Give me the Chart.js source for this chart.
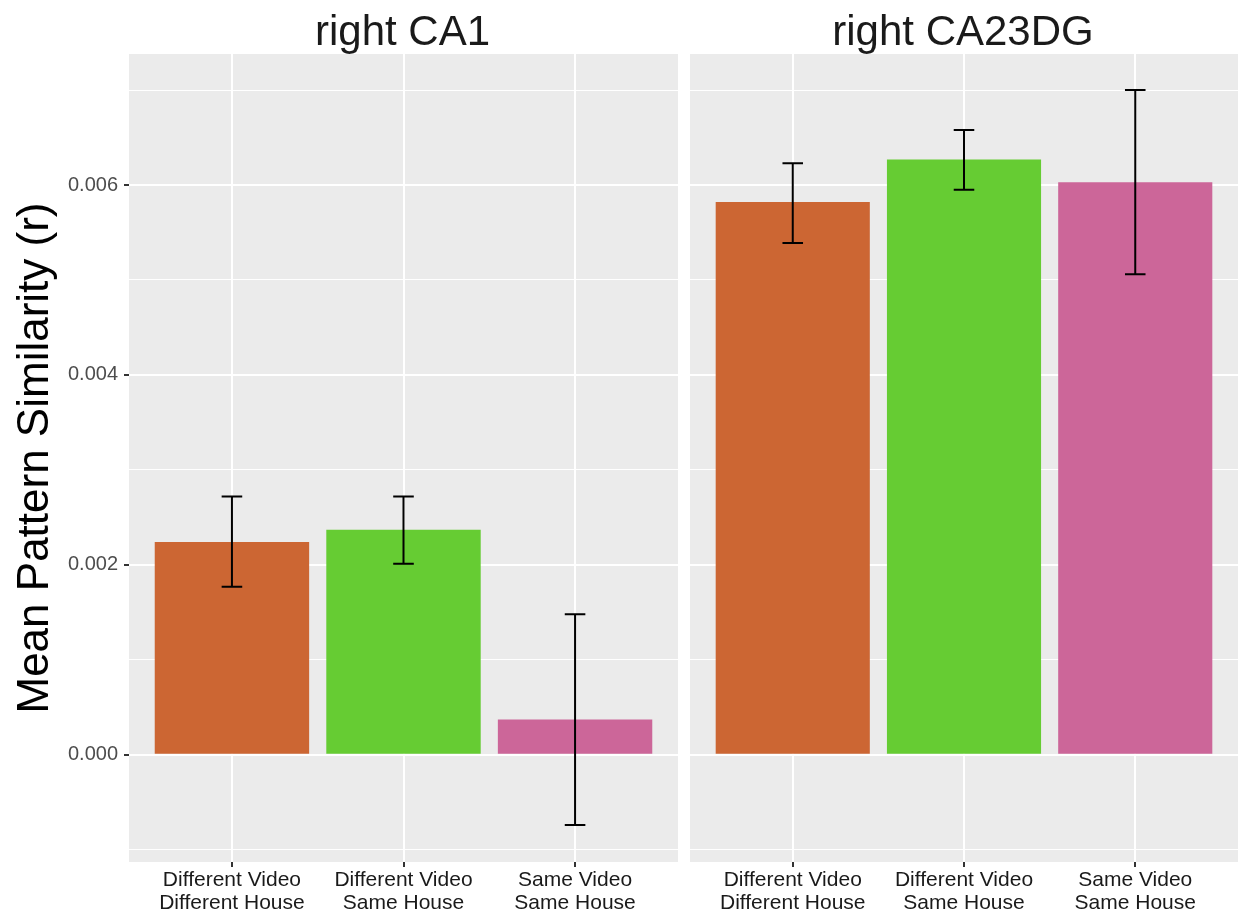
<!DOCTYPE html>
<html>
<head>
<meta charset="utf-8">
<script src="https://cdn.jsdelivr.net/npm/chart.js@4/dist/chart.umd.min.js"></script>
<style>
  html, body { margin: 0; padding: 0; background: #fff; }
  #wrap { position: relative; width: 1241px; height: 916px; }
  canvas { position: absolute; top: 0; }
</style>
</head>
<body>
<div id="wrap">
  <canvas id="left" width="684" height="916" style="left:0"></canvas>
  <canvas id="right" width="557" height="916" style="left:684px"></canvas>
</div>
<script>
const panels = ['right CA1', 'right CA23DG'];
const categories = [
  ['Different Video', 'Different House'],
  ['Different Video', 'Same House'],
  ['Same Video', 'Same House'],
];
const barColors = ['#CC6633', '#66CC33', '#CC6699'];

const ca1Means = [0.00224, 0.00237, 0.00037];
const ca1Low = [0.00177, 0.00201, -0.00074];
const ca1High = [0.00272, 0.00272, 0.00148];

const ca23Means = [0.00582, 0.00627, 0.00603];
const ca23Low = [0.00539, 0.00595, 0.00506];
const ca23High = [0.00623, 0.00658, 0.00700];

const yTicks = [-0.001, 0, 0.001, 0.002, 0.003, 0.004, 0.005, 0.006, 0.007];
const majorTicks = [0, 0.002, 0.004, 0.006];

const FONT = "'Liberation Sans', Arial, Helvetica, sans-serif";
const isMajor = v => majorTicks.some(m => Math.abs(m - v) < 1e-9);

const panelBg = {
  id: 'panelBg',
  beforeDraw(chart) {
    const { ctx, chartArea: a } = chart;
    ctx.save();
    ctx.fillStyle = '#EBEBEB';
    ctx.fillRect(a.left, a.top, a.right - a.left, a.bottom - a.top);
    ctx.restore();
  },
};

const facetTitle = {
  id: 'facetTitle',
  afterDraw(chart, args, opts) {
    const { ctx, chartArea: a } = chart;
    ctx.save();
    ctx.font = '42px ' + FONT;
    ctx.fillStyle = '#1A1A1A';
    ctx.textAlign = 'center';
    ctx.textBaseline = 'alphabetic';
    ctx.fillText(opts.text, (a.left + a.right) / 2 - 1, 45);
    ctx.restore();
  },
};

const errorBars = {
  id: 'errorBars',
  afterDatasetsDraw(chart, args, opts) {
    const { ctx } = chart;
    const x = chart.scales.x;
    const y = chart.scales.y;
    const half = x.getPixelForValue(1.06) - x.getPixelForValue(1);
    ctx.save();
    ctx.strokeStyle = '#000';
    ctx.lineWidth = 2;
    chart.getDatasetMeta(0).data.forEach((bar, i) => {
      const yl = y.getPixelForValue(opts.low[i]);
      const yh = y.getPixelForValue(opts.high[i]);
      ctx.beginPath();
      ctx.moveTo(bar.x, yl);
      ctx.lineTo(bar.x, yh);
      ctx.moveTo(bar.x - half, yl);
      ctx.lineTo(bar.x + half, yl);
      ctx.moveTo(bar.x - half, yh);
      ctx.lineTo(bar.x + half, yh);
      ctx.stroke();
    });
    ctx.restore();
  },
};

function makePanel(canvas, title, means, low, high, showY) {
  return new Chart(canvas, {
    type: 'bar',
    plugins: [panelBg, facetTitle, errorBars],
    data: {
      datasets: [{
        data: means.map((v, i) => ({ x: i + 1, y: v })),
        backgroundColor: barColors,
        hoverBackgroundColor: barColors,
        borderWidth: 0,
        barPercentage: 0.9,
        categoryPercentage: 1,
      }],
    },
    options: {
      responsive: false,
      animation: false,
      devicePixelRatio: 1,
      layout: {
        padding: { top: 54, bottom: 0, left: showY ? 0 : 6, right: showY ? 6 : 3 },
      },
      plugins: {
        legend: { display: false },
        tooltip: { enabled: false },
        facetTitle: { text: title },
        errorBars: { low, high },
      },
      scales: {
        x: {
          type: 'linear',
          min: 0.4,
          max: 3.6,
          offset: false,
          afterBuildTicks: (scale) => {
            scale.ticks = categories.map((c, i) => ({ value: i + 1 }));
          },
          afterFit: (scale) => { scale.height = 54; },
          border: { display: false },
          grid: {
            offset: false,
            color: '#FFFFFF',
            lineWidth: 2,
            tickColor: '#333333',
            tickLength: 5,
          },
          ticks: {
            autoSkip: false,
            maxRotation: 0,
            padding: 2,
            color: '#1A1A1A',
            font: { family: FONT, size: 21, lineHeight: 1.08 },
            callback: (v) => categories[Math.round(v) - 1] || '',
          },
        },
        y: {
          min: -0.00113,
          max: 0.00738,
          afterBuildTicks: (scale) => {
            scale.ticks = yTicks.map(v => ({ value: v }));
          },
          afterFit: (scale) => { scale.width = showY ? 129 : 0; },
          border: { display: false },
          grid: {
            color: '#FFFFFF',
            lineWidth: (c) => (isMajor(c.tick.value) ? 2 : 1),
            drawTicks: showY,
            tickColor: (c) => (isMajor(c.tick.value) ? '#333333' : 'rgba(0,0,0,0)'),
            tickLength: 5,
          },
          ticks: {
            display: showY,
            autoSkip: false,
            padding: 6,
            color: '#4D4D4D',
            font: { family: FONT, size: 20 },
            callback: (v) => (isMajor(v) ? v.toFixed(3) : ''),
          },
          title: {
            display: showY,
            text: 'Mean Pattern Similarity (r)',
            color: '#000000',
            font: { family: FONT, size: 44 },
            padding: { top: 9, bottom: 0 },
          },
        },
      },
    },
  });
}

makePanel(document.getElementById('left'), panels[0], ca1Means, ca1Low, ca1High, true);
makePanel(document.getElementById('right'), panels[1], ca23Means, ca23Low, ca23High, false);
</script>
</body>
</html>
